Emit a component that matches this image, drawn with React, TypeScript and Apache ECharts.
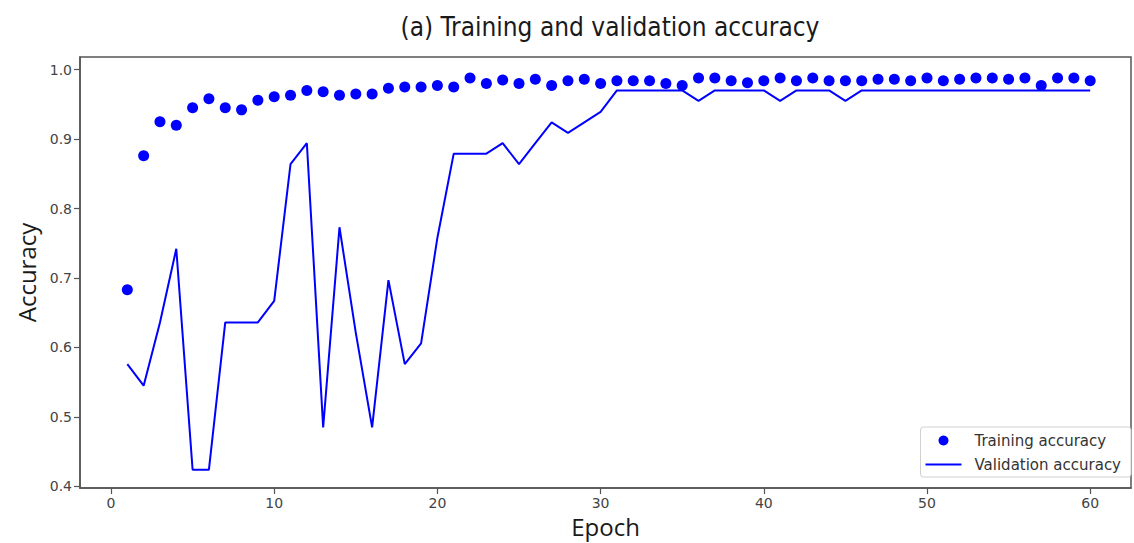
import React, { useEffect, useRef } from "react";
import * as echarts from "echarts";

const epochs = Array.from({ length: 60 }, (_, i) => i + 1);

const trainingAccuracy = [
  0.683, 0.876, 0.925, 0.92, 0.945, 0.958, 0.945, 0.942, 0.956, 0.961,
  0.963, 0.97, 0.968, 0.963, 0.965, 0.965, 0.973, 0.975, 0.975, 0.977,
  0.975, 0.988, 0.98, 0.985, 0.98, 0.986, 0.977, 0.984, 0.986, 0.98,
  0.984, 0.984, 0.984, 0.98, 0.977, 0.988, 0.988, 0.984, 0.981, 0.984,
  0.988, 0.984, 0.988, 0.984, 0.984, 0.984, 0.986, 0.986, 0.984, 0.988,
  0.984, 0.986, 0.988, 0.988, 0.986, 0.988, 0.977, 0.988, 0.988, 0.984,
];

const validationAccuracy = [
  0.576, 0.545, 0.636, 0.742, 0.424, 0.424, 0.636, 0.636, 0.636, 0.667,
  0.864, 0.894, 0.485, 0.773, 0.621, 0.485, 0.697, 0.576, 0.606, 0.758,
  0.879, 0.879, 0.879, 0.894, 0.864, 0.894, 0.924, 0.909, 0.924, 0.939,
  0.97, 0.97, 0.97, 0.97, 0.97, 0.955, 0.97, 0.97, 0.97, 0.97,
  0.955, 0.97, 0.97, 0.97, 0.955, 0.97, 0.97, 0.97, 0.97, 0.97,
  0.97, 0.97, 0.97, 0.97, 0.97, 0.97, 0.97, 0.97, 0.97, 0.97,
];

const xTicks = [0, 10, 20, 30, 40, 50, 60];
const yTicks = [0.4, 0.5, 0.6, 0.7, 0.8, 0.9, 1.0];

const tickFont = "'DejaVu Sans', sans-serif";
const labelFont = "'Open Sans', 'DejaVu Sans', sans-serif";

export default function App() {
  const ref = useRef<HTMLDivElement>(null);

  useEffect(() => {
    if (!ref.current) return;
    const chart = echarts.init(ref.current, undefined, { renderer: "svg" });
    chart.setOption({
      animation: false,
      backgroundColor: "#ffffff",
      title: {
        text: "(a) Training and validation accuracy",
        left: 605,
        top: 9,
        textAlign: "center",
        textStyle: {
          fontFamily: "'Liberation Sans Narrow', 'DejaVu Sans Condensed', sans-serif",
          fontWeight: "normal",
          fontSize: 26,
          color: "#1a1a1a",
        },
      },
      grid: {
        left: 80,
        right: 3,
        top: 57,
        bottom: 55,
        outerBoundsMode: "none",
        containLabel: false,
        show: true,
        borderColor: "#555555",
        borderWidth: 1.5,
        backgroundColor: "transparent",
      },
      legend: {
        orient: "vertical",
        right: 3,
        top: 427,
        itemWidth: 36,
        itemHeight: 10,
        itemGap: 9,
        padding: [6, 10, 5, 5],
        borderColor: "#d0d0d0",
        borderWidth: 1,
        borderRadius: 3,
        backgroundColor: "#ffffff",
        textStyle: {
          fontFamily: tickFont,
          fontSize: 15,
          color: "#333333",
          padding: [0, 0, 0, 8],
        },
        data: [
          { name: "Training accuracy", icon: "circle" },
          {
            name: "Validation accuracy",
            icon: "path://M0,0 L36,0 L36,2 L0,2 Z",
          },
        ],
      },
      xAxis: {
        type: "value",
        min: -1.9,
        max: 62.5,
        name: "Epoch",
        nameLocation: "middle",
        nameGap: 26,
        nameTextStyle: { fontFamily: labelFont, fontSize: 24, color: "#1a1a1a" },
        splitLine: { show: false },
        axisLine: {
          show: true,
          onZero: false,
          lineStyle: { color: "#555555", width: 1.5 },
        },
        axisTick: {
          show: true,
          length: 6,
          customValues: xTicks,
          lineStyle: { color: "#555555", width: 1.2 },
        },
        axisLabel: {
          customValues: xTicks,
          fontFamily: tickFont,
          fontSize: 14,
          color: "#444444",
          margin: 8,
        },
      },
      yAxis: {
        type: "value",
        min: 0.3977,
        max: 1.0181,
        name: "Accuracy",
        nameLocation: "middle",
        nameGap: 42,
        nameTextStyle: { fontFamily: labelFont, fontSize: 24, color: "#1a1a1a" },
        splitLine: { show: false },
        axisLine: {
          show: true,
          onZero: false,
          lineStyle: { color: "#555555", width: 1.5 },
        },
        axisTick: {
          show: true,
          length: 6,
          customValues: yTicks,
          lineStyle: { color: "#555555", width: 1.2 },
        },
        axisLabel: {
          customValues: yTicks,
          formatter: (v: number) => v.toFixed(1),
          fontFamily: tickFont,
          fontSize: 14,
          color: "#444444",
          margin: 8,
        },
      },
      series: [
        {
          name: "Training accuracy",
          type: "scatter",
          symbol: "circle",
          symbolSize: 11,
          itemStyle: { color: "#0000ff", opacity: 1 },
          data: epochs.map((e, i) => [e, trainingAccuracy[i]]),
          z: 3,
        },
        {
          name: "Validation accuracy",
          type: "line",
          symbol: "none",
          lineStyle: { color: "#0000ff", width: 2 },
          itemStyle: { color: "#0000ff" },
          data: epochs.map((e, i) => [e, validationAccuracy[i]]),
          z: 2,
        },
      ],
    });
    return () => chart.dispose();
  }, []);

  return (
    <div
      ref={ref}
      style={{ position: "fixed", left: 0, top: 0, width: 1134, height: 543 }}
    />
  );
}
